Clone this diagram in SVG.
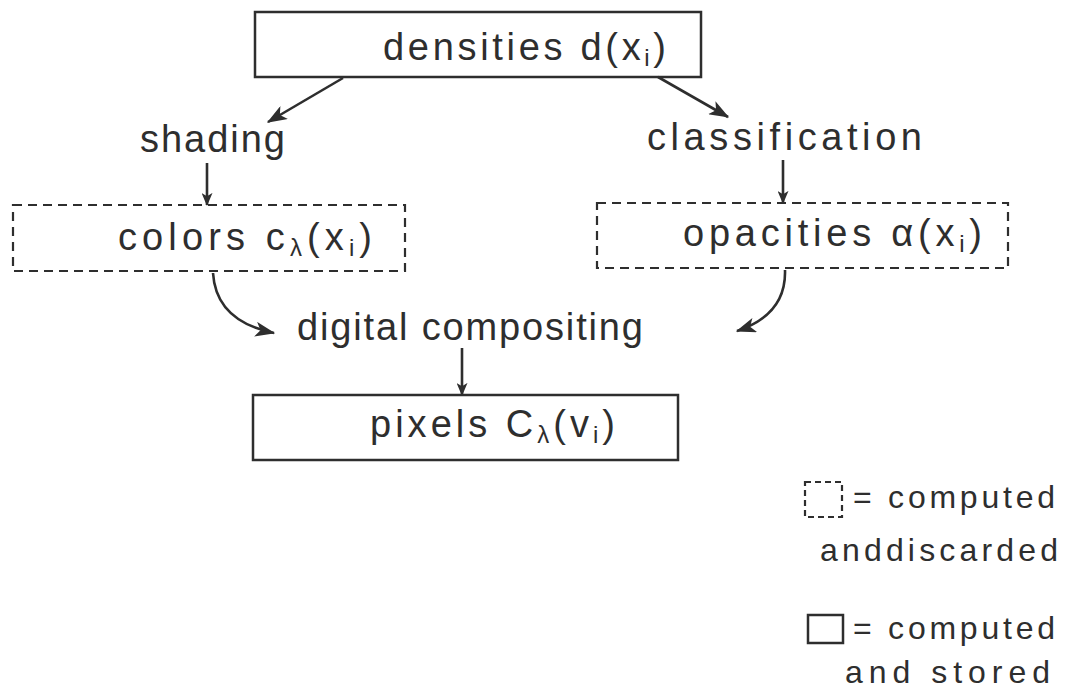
<svg xmlns="http://www.w3.org/2000/svg" width="1073" height="699" viewBox="0 0 1073 699">
  <style>
    .box { fill: none; stroke: #2e2e2e; stroke-width: 2.5; }
    .dash { fill: none; stroke: #2e2e2e; stroke-width: 2.2; stroke-dasharray: 9 6; }
    .wire { fill: none; stroke: #2e2e2e; stroke-width: 2.6; }
    text { font-family: "Liberation Sans", "DejaVu Sans", sans-serif; fill: #2e2e2e; }
    .lbl { font-size: 38px; }
    .sub { font-size: 24px; }
    .leg { font-size: 32px; }
  </style>
  <defs>
    <marker id="head" viewBox="0 0 12 10" refX="11" refY="5" markerWidth="14" markerHeight="11" markerUnits="userSpaceOnUse" orient="auto">
      <path d="M0,0 L12,5 L0,10 L3,5 Z" fill="#2e2e2e"/>
    </marker>
    <marker id="headBig" viewBox="0 0 16 12" refX="15" refY="6" markerWidth="21" markerHeight="15" markerUnits="userSpaceOnUse" orient="auto">
      <path d="M0,0 L16,6 L0,12 L4,6 Z" fill="#2e2e2e"/>
    </marker>
  </defs>

  <rect width="1073" height="699" fill="#ffffff"/>

  <!-- connectors -->
  <g id="connectors">
    <line class="wire" x1="343" y1="78" x2="268" y2="122" marker-end="url(#headBig)"/>
    <line class="wire" x1="658" y1="77" x2="728" y2="117" marker-end="url(#headBig)"/>
    <line class="wire" x1="207" y1="163" x2="207" y2="205" marker-end="url(#head)"/>
    <line class="wire" x1="783" y1="160" x2="783" y2="203" marker-end="url(#head)"/>
    <path class="wire" d="M213,273 C215,305 235,325 274,333" marker-end="url(#headBig)"/>
    <path class="wire" d="M785,270 C786,300 770,320 737,331" marker-end="url(#headBig)"/>
    <line class="wire" x1="462" y1="348" x2="462" y2="395" marker-end="url(#head)"/>
  </g>

  <!-- stored: densities -->
  <g id="densities">
    <rect class="box" x="255" y="12" width="446" height="65"/>
    <text class="lbl" x="383" y="60" textLength="283" lengthAdjust="spacing">densities d(x<tspan class="sub" dy="6">i</tspan><tspan dy="-6">)</tspan></text>
  </g>

  <!-- process labels -->
  <g id="shading">
    <text class="lbl" x="140" y="152" textLength="145" lengthAdjust="spacing">shading</text>
  </g>
  <g id="classification">
    <text class="lbl" x="647" y="150" textLength="275" lengthAdjust="spacing">classification</text>
  </g>

  <!-- discarded: colors -->
  <g id="colors">
    <rect class="dash" x="13" y="205" width="392" height="66"/>
    <text class="lbl" x="118" y="250" textLength="254" lengthAdjust="spacing">colors c<tspan class="sub" dy="6">λ</tspan><tspan dy="-6">(x</tspan><tspan class="sub" dy="6">i</tspan><tspan dy="-6">)</tspan></text>
  </g>

  <!-- discarded: opacities -->
  <g id="opacities">
    <rect class="dash" x="597" y="203" width="411" height="65"/>
    <text class="lbl" x="683" y="246" textLength="299" lengthAdjust="spacing">opacities α(x<tspan class="sub" dy="6">i</tspan><tspan dy="-6">)</tspan></text>
  </g>

  <g id="compositing">
    <text class="lbl" x="297" y="340" textLength="346" lengthAdjust="spacing">digital compositing</text>
  </g>

  <!-- stored: pixels -->
  <g id="pixels">
    <rect class="box" x="253" y="395" width="425" height="65"/>
    <text class="lbl" x="370" y="437" textLength="245" lengthAdjust="spacing">pixels C<tspan class="sub" dy="6">λ</tspan><tspan dy="-6">(v</tspan><tspan class="sub" dy="6">i</tspan><tspan dy="-6">)</tspan></text>
  </g>

  <!-- legend -->
  <g id="legend-discarded">
    <rect class="dash" x="805" y="482" width="37" height="35" style="stroke-dasharray:6 4"/>
    <text class="leg" x="853" y="508" textLength="202" lengthAdjust="spacing">= computed</text>
    <text class="leg" x="820" y="561" textLength="238" lengthAdjust="spacing">anddiscarded</text>
  </g>
  <g id="legend-stored">
    <rect class="box" x="808" y="615" width="35" height="28"/>
    <text class="leg" x="853" y="639" textLength="202" lengthAdjust="spacing">= computed</text>
    <text class="leg" x="845" y="683" textLength="205" lengthAdjust="spacing">and stored</text>
  </g>
</svg>
